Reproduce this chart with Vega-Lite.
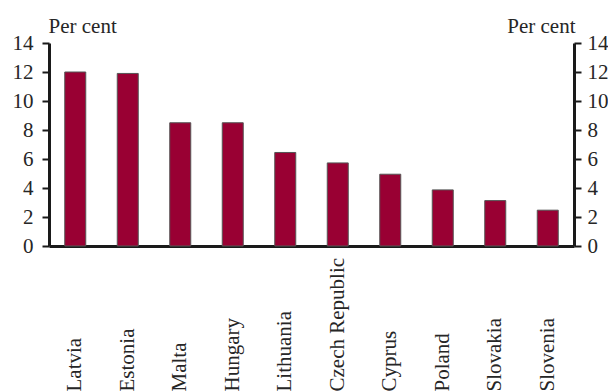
{
  "$schema": "https://vega.github.io/schema/vega-lite/v6.json",
  "width": 525,
  "height": 203,
  "autosize": {"type": "none"},
  "padding": {"left": 49, "top": 43, "right": 34, "bottom": 146},
  "background": "white",
  "config": {
    "view": {"stroke": null},
    "font": "Liberation Serif",
    "axis": {
      "labelFont": "Liberation Serif",
      "titleFont": "Liberation Serif",
      "labelFontSize": 21,
      "titleFontSize": 21,
      "labelColor": "#262626",
      "titleColor": "#262626",
      "titleFontWeight": "normal",
      "domainColor": "#1a1a1a",
      "tickColor": "#1a1a1a",
      "domainWidth": 3,
      "tickWidth": 2,
      "grid": false
    }
  },
  "data": {
    "values": [
      {"country": "Latvia", "value": 12.0},
      {"country": "Estonia", "value": 11.9},
      {"country": "Malta", "value": 8.5},
      {"country": "Hungary", "value": 8.5},
      {"country": "Lithuania", "value": 6.45},
      {"country": "Czech Republic", "value": 5.73},
      {"country": "Cyprus", "value": 4.95},
      {"country": "Poland", "value": 3.87},
      {"country": "Slovakia", "value": 3.13},
      {"country": "Slovenia", "value": 2.47}
    ]
  },
  "encoding": {
    "x": {
      "field": "country",
      "type": "nominal",
      "sort": null,
      "scale": {"paddingInner": 0.6, "paddingOuter": 0.3},
      "axis": {
        "title": null,
        "labelAngle": 270,
        "labelAlign": "left",
        "labelBaseline": "middle",
        "ticks": false,
        "tickSize": 0,
        "labelPadding": 145,
        "labelLimit": 0
      }
    }
  },
  "layer": [
    {
      "mark": {"type": "bar", "fill": "#990033", "stroke": "#555555", "strokeWidth": 1},
      "encoding": {
        "y": {
          "field": "value",
          "type": "quantitative",
          "scale": {"domain": [0, 14], "nice": false},
          "axis": {
            "orient": "left",
            "values": [0, 2, 4, 6, 8, 10, 12, 14],
            "title": "Per cent",
            "titleAngle": 0,
            "titleAlign": "left",
            "titleBaseline": "alphabetic",
            "titleX": -1,
            "titleY": -11,
            "tickSize": 7,
            "labelPadding": 9
          }
        }
      }
    },
    {
      "mark": {"type": "bar", "opacity": 0},
      "encoding": {
        "y": {
          "field": "value",
          "type": "quantitative",
          "scale": {"domain": [0, 14], "nice": false},
          "axis": {
            "orient": "right",
            "values": [0, 2, 4, 6, 8, 10, 12, 14],
            "title": "Per cent",
            "titleAngle": 0,
            "titleAlign": "right",
            "titleBaseline": "alphabetic",
            "titleX": 1,
            "titleY": -11,
            "tickSize": 7,
            "labelPadding": 6
          }
        }
      }
    }
  ],
  "resolve": {"scale": {"y": "independent"}, "axis": {"y": "independent"}}
}
